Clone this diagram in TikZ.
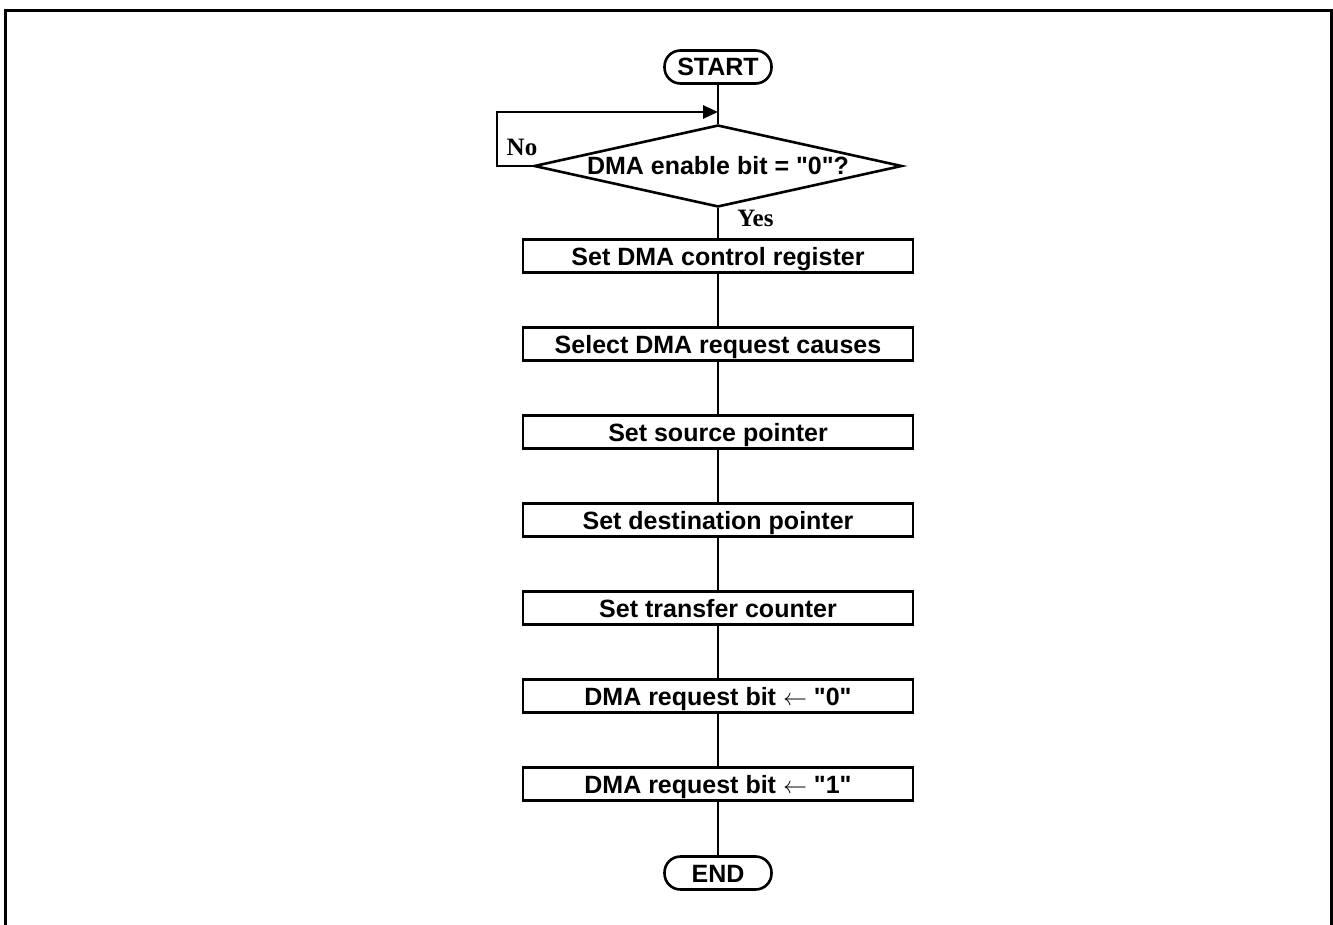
\documentclass[tikz,border=0pt]{standalone}
\usepackage{fontspec}
\setmainfont{Liberation Sans}
\newfontfamily\answerfont{Liberation Serif}
\usetikzlibrary{shapes.geometric, arrows.meta}

\tikzset{
  flowline/.style={line width=1.3pt, black},
  procbox/.style={draw, line width=1.3pt, minimum width=195pt, minimum height=16.5pt,
    inner sep=0pt, text height=9pt, text depth=0pt, font=\fontsize{12.5}{14}\selectfont\bfseries},
  termbox/.style={procbox, rounded corners=8pt, minimum width=53.5pt},
  decbox/.style={draw, diamond, line width=1.3pt, shape aspect=4.49, minimum width=184pt,
    minimum height=41pt, inner sep=0pt, text height=9pt, text depth=0pt,
    font=\fontsize{12.5}{14}\selectfont\bfseries},
  answer/.style={inner sep=0pt, font=\fontsize{12.5}{14}\selectfont\answerfont\bfseries},
}

\begin{document}
\begin{tikzpicture}[x=0.5pt, y=-0.5pt]
\useasboundingbox (0,0) rectangle (1333,925);

% Outer frame, open at the bottom
\draw[line width=1.5pt] (5,925) -- (5,11) -- (1331,11) -- (1331,925);

% Terminals, decision and steps
\node[termbox] (start) at (718,67) {START};
\node[decbox] (dec) at (718,166) {DMA enable bit = \textquotedbl0\textquotedbl?};
\node[procbox] (b1) at (718,256) {Set DMA control register};
\node[procbox] (b2) at (718,344) {Select DMA request causes};
\node[procbox] (b3) at (718,432) {Set source pointer};
\node[procbox] (b4) at (718,520) {Set destination pointer};
\node[procbox] (b5) at (718,608) {Set transfer counter};
\node[procbox] (b6) at (718,696) {DMA request bit $\leftarrow$ \textquotedbl0\textquotedbl};
\node[procbox] (b7) at (718,784) {DMA request bit $\leftarrow$ \textquotedbl1\textquotedbl};
\node[termbox] (stop) at (718,873) {END};

% Answers
\node[answer] (no) at (522,147) {No};
\node[answer, anchor=west] (yes) at (737,218) {Yes};

% Main flow
\draw[flowline] (start) -- (dec);
\draw[flowline] (dec) -- (b1);
\draw[flowline] (b1) -- (b2);
\draw[flowline] (b2) -- (b3);
\draw[flowline] (b3) -- (b4);
\draw[flowline] (b4) -- (b5);
\draw[flowline] (b5) -- (b6);
\draw[flowline] (b6) -- (b7);
\draw[flowline] (b7) -- (stop);

% Loop back on "No"
\coordinate (loop) at (497,112);
\coordinate (merge) at (718,112);
\draw[flowline, -{Triangle[length=7.5pt, width=6.5pt]}] (dec.west) -| (loop) -- (merge);
\end{tikzpicture}
\end{document}
